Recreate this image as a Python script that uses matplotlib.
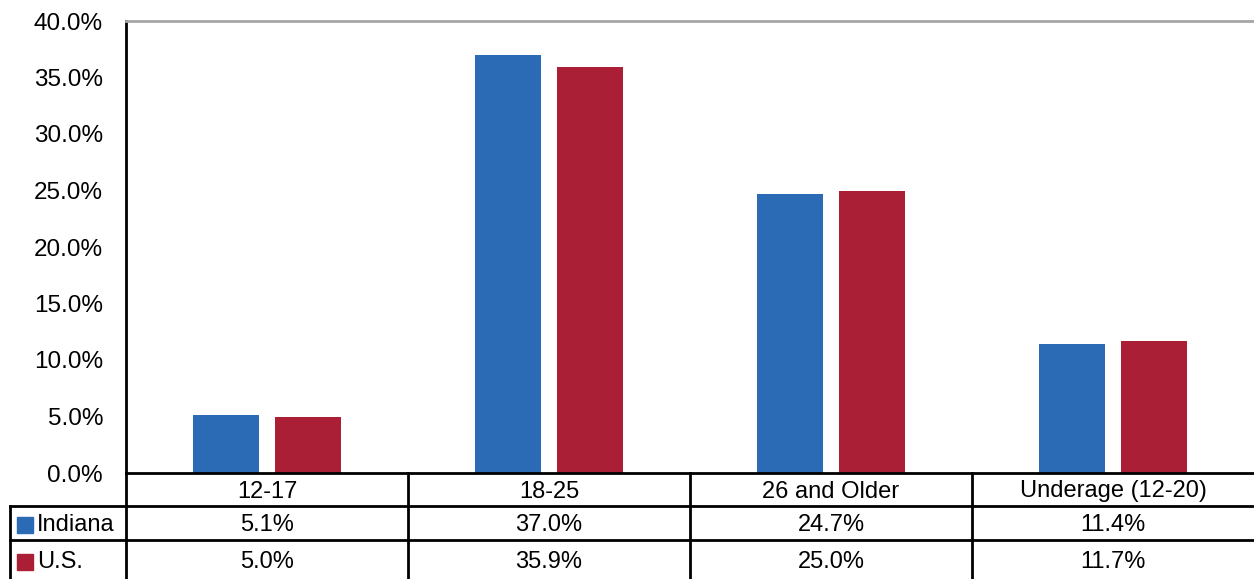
import matplotlib.pyplot as plt
import numpy as np

plt.rcParams['font.family'] = ['Liberation Sans', 'DejaVu Sans']

categories = ['12-17', '18-25', '26 and Older', 'Underage (12-20)']
indiana = [5.1, 37.0, 24.7, 11.4]
us = [5.0, 35.9, 25.0, 11.7]
series_names = ['Indiana', 'U.S.']
colours = ['#2B6AB4', '#AB1F36']
yticks = np.arange(0, 45, 5)

W, H = 1254, 579
fig = plt.figure(figsize=(W / 100, H / 100), dpi=100)

# plot area in pixel terms: left 126, top 21, bottom 473
left, top, bottom = 126, 21, 473
ax = fig.add_axes([left / W, (H - bottom) / H, (W - left) / W, (bottom - top) / H])

x = np.arange(len(categories))
bw = 0.234
ax.bar(x - 0.145, indiana, bw, color=colours[0])
ax.bar(x + 0.145, us, bw, color=colours[1])

ax.set_xlim(-0.5, len(categories) - 0.5)
ax.set_ylim(0, 40)
ax.set_yticks(yticks)
ax.set_yticklabels(['%.1f%%' % v for v in yticks], fontsize=17.5)
ax.tick_params(axis='y', length=0, pad=16.5)
ax.set_xticks([])
for s in ['right', 'bottom']:
    ax.spines[s].set_visible(False)
ax.spines['left'].set_linewidth(2)
ax.spines['left'].set_color('black')
ax.spines['top'].set_color('#A6A6A6')
ax.spines['top'].set_linewidth(2)

# data table underneath, drawn on an overlay in pixel units
tab = fig.add_axes([0, 0, 1, 1], zorder=5)
tab.set_xlim(0, W)
tab.set_ylim(H, 0)
tab.axis('off')
tab.patch.set_alpha(0)

col_w = (W - left) / len(categories)
row_y = [473, 506, 540, 579 + 10]
lw = 2
tab.plot([left, W], [row_y[0], row_y[0]], color='black', lw=lw)
tab.plot([10, W], [row_y[1], row_y[1]], color='black', lw=lw)
tab.plot([10, W], [row_y[2], row_y[2]], color='black', lw=lw)
tab.plot([10, 10], [row_y[1], row_y[3]], color='black', lw=lw)
for i in range(len(categories)):
    xv = left + i * col_w
    tab.plot([xv, xv], [row_y[0], row_y[3]], color='black', lw=lw)

for i, cat in enumerate(categories):
    cx = left + (i + 0.5) * col_w
    tab.text(cx, (row_y[0] + row_y[1]) / 2 + 2, cat, ha='center', va='center', fontsize=17)
    for r, vals in enumerate([indiana, us]):
        cy = (row_y[1 + r] + row_y[2 + r] - (10 if r == 1 else 0)) / 2 + 2
        tab.text(cx, cy, '%.1f%%' % vals[i], ha='center', va='center', fontsize=17)

for r, name in enumerate(series_names):
    cy = (row_y[1 + r] + row_y[2 + r] - (10 if r == 1 else 0)) / 2 + 2
    tab.add_patch(plt.Rectangle((17, cy - 8), 16, 16, color=colours[r]))
    tab.text(37, cy, name, ha='left', va='center', fontsize=17)

fig.savefig('out.png', dpi=100)
